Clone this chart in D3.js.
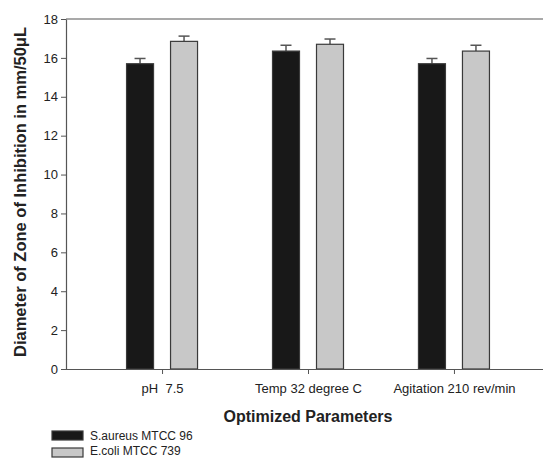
<!DOCTYPE html>
<html>
<head>
<meta charset="utf-8">
<script src="https://cdn.jsdelivr.net/npm/d3@7"></script>
<style>
  html, body { margin: 0; padding: 0; background: #fff; }
  svg { display: block; font-family: "Liberation Sans", Arial, sans-serif; }
</style>
</head>
<body>
<svg id="chart" width="543" height="458"></svg>
<script>
// Zone-of-inhibition diameters (mm/50 µL) per optimized parameter
const categories = ["pH  7.5", "Temp 32 degree C", "Agitation 210 rev/min"];
const seriesNames = ["S.aureus MTCC 96", "E.coli MTCC 739"];
const saureusValues = [15.7, 16.35, 15.7];
const saureusErrors = [0.27, 0.3, 0.27];
const ecoliValues = [16.85, 16.7, 16.35];
const ecoliErrors = [0.27, 0.27, 0.3];
const yTicks = [0, 2, 4, 6, 8, 10, 12, 14, 16, 18];

const colors = ["#181818", "#c8c8c8"];
const strokes = ["#3a3a3a", "#3a3a3a"];

const svg = d3.select("#chart");
const plotLeft = 66, plotRight = 550, plotTop = 19, plotBottom = 369;

const x = d3.scalePoint().domain(categories).range([plotLeft, plotRight]).padding(0.658);
const y = d3.scaleLinear().domain([0, 18]).range([plotBottom, plotTop]);

const series = [
  { name: seriesNames[0], values: saureusValues, errors: saureusErrors, offset: -22 },
  { name: seriesNames[1], values: ecoliValues, errors: ecoliErrors, offset: 22 }
];
const barW = 27;

// frame: top line
svg.append("line")
  .attr("x1", plotLeft).attr("x2", 543).attr("y1", plotTop).attr("y2", plotTop)
  .attr("stroke", "#555").attr("stroke-width", 1.2);

// bars and error bars
series.forEach((s, si) => {
  const g = svg.append("g");
  g.selectAll("line.stem").data(categories).join("line")
    .attr("x1", (d) => x(d) + s.offset).attr("x2", (d) => x(d) + s.offset)
    .attr("y1", (d, i) => y(s.values[i])).attr("y2", (d, i) => y(s.values[i] + s.errors[i]))
    .attr("stroke", "#555").attr("stroke-width", 1.5);
  g.selectAll("line.cap").data(categories).join("line")
    .attr("x1", (d) => x(d) + s.offset - 5.5).attr("x2", (d) => x(d) + s.offset + 5.5)
    .attr("y1", (d, i) => y(s.values[i] + s.errors[i])).attr("y2", (d, i) => y(s.values[i] + s.errors[i]))
    .attr("stroke", "#555").attr("stroke-width", 1.5);
  g.selectAll("rect").data(categories).join("rect")
    .attr("x", (d) => x(d) + s.offset - barW / 2)
    .attr("width", barW)
    .attr("y", (d, i) => y(s.values[i]))
    .attr("height", (d, i) => y(0) - y(s.values[i]))
    .attr("fill", colors[si])
    .attr("stroke", strokes[si]).attr("stroke-width", 1.2);
});

// y axis
const yAxis = svg.append("g")
  .attr("transform", `translate(${plotLeft},0)`)
  .call(d3.axisLeft(y).tickValues(yTicks).tickSize(5).tickSizeOuter(0).tickFormat(d3.format("d")));
yAxis.select(".domain").attr("stroke", "#555").attr("stroke-width", 1.2);
yAxis.selectAll(".tick line").attr("stroke", "#555");
yAxis.selectAll(".tick text").attr("font-size", 13).attr("fill", "#222").attr("x", -8)
  .attr("font-family", "Liberation Sans, Arial, sans-serif");

// x axis
const xAxis = svg.append("g")
  .attr("transform", `translate(0,${plotBottom})`)
  .call(d3.axisBottom(x).tickSize(5).tickSizeOuter(0));
xAxis.select(".domain").attr("d", `M${plotLeft},0.5H543`).attr("stroke", "#555").attr("stroke-width", 1.2);
xAxis.selectAll(".tick line").attr("stroke", "#555");
xAxis.selectAll(".tick text").attr("font-size", 13).attr("fill", "#222").attr("y", 15)
  .attr("font-family", "Liberation Sans, Arial, sans-serif")
  .style("white-space", "pre");

// axis titles
svg.append("text")
  .attr("x", x(categories[1])).attr("y", 422)
  .attr("text-anchor", "middle").attr("font-size", 16).attr("font-weight", "bold").attr("fill", "#222")
  .text("Optimized Parameters");

svg.append("text")
  .attr("transform", `translate(26,192) rotate(-90)`)
  .attr("text-anchor", "middle").attr("font-size", 16.5).attr("font-weight", "bold").attr("fill", "#222")
  .text("Diameter of Zone of Inhibition in mm/50\u03BCL");

// legend
const legend = svg.append("g");
seriesNames.forEach((name, i) => {
  legend.append("rect")
    .attr("x", 52).attr("y", 431 + i * 17).attr("width", 31).attr("height", 9)
    .attr("fill", colors[i]).attr("stroke", strokes[i]).attr("stroke-width", 1.2);
  legend.append("text")
    .attr("x", 90).attr("y", 439.5 + i * 15.5)
    .attr("font-size", 12).attr("fill", "#222")
    .text(name);
});
</script>
</body>
</html>
